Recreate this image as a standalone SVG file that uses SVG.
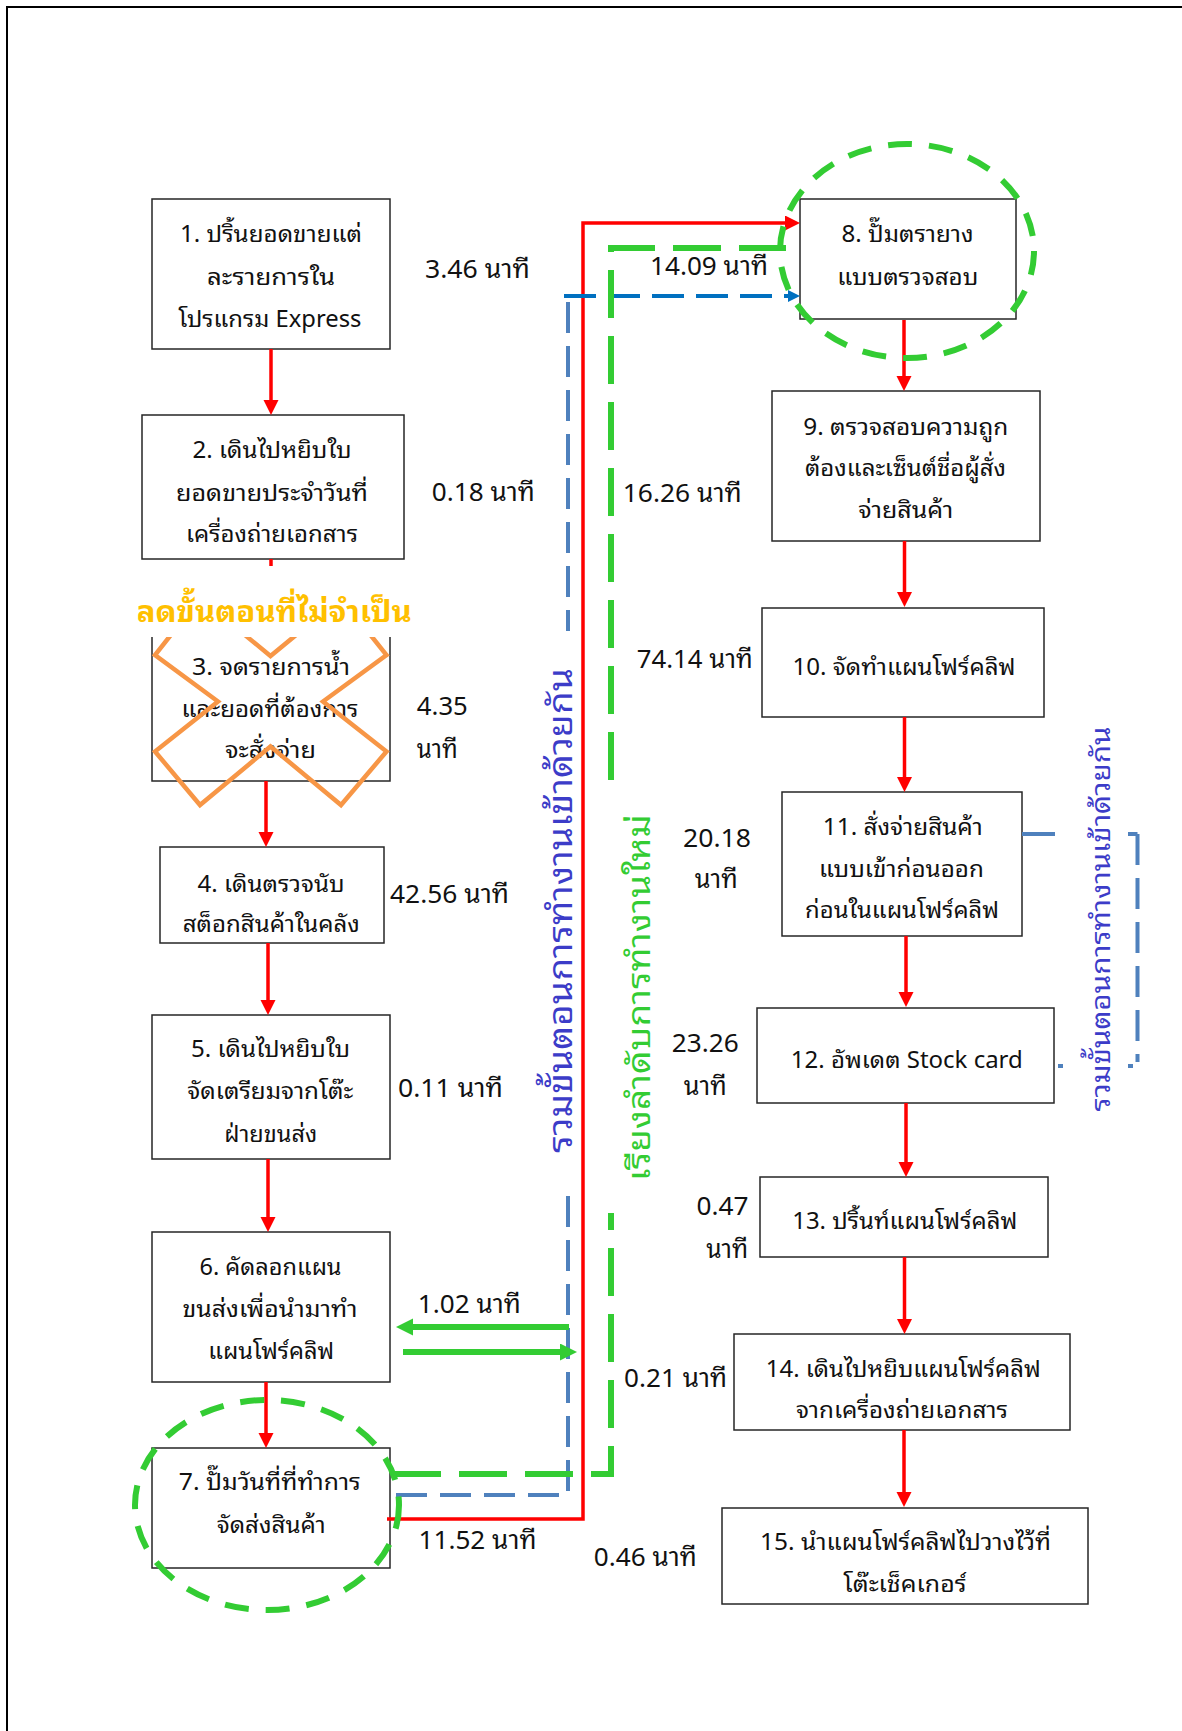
<svg xmlns="http://www.w3.org/2000/svg" width="1182" height="1731" viewBox="0 0 1182 1731">
<style>
.box{fill:#fff;stroke:#262626;stroke-width:1.5}
.t{font-family:"Noto Sans Thai Looped","Noto Looped Thai UI","Noto Looped Thai","Leelawadee UI","Tahoma","Noto Sans Thai","Noto Sans","DejaVu Sans",sans-serif;font-size:23px;fill:#111;text-anchor:middle}
.l{font-family:"Noto Sans Thai Looped","Noto Looped Thai UI","Noto Looped Thai","Leelawadee UI","Tahoma","Noto Sans Thai","Noto Sans","DejaVu Sans",sans-serif;font-size:26px;fill:#111;text-anchor:middle}
.red{stroke:#FF0000;stroke-width:3.5;fill:none}
.grn{stroke:#33CC33;stroke-width:6;fill:none}
.gd{stroke-dasharray:48 18}
.bl{stroke:#4F81BD;stroke-width:4;fill:none;stroke-dasharray:31 13}
.db{stroke:#0070C0;stroke-width:4;fill:none;stroke-dasharray:32 12}
.ell{fill:none;stroke:#33CC33;stroke-width:6;stroke-dasharray:24 17}
.vt{font-family:"Noto Sans Thai Looped","Noto Looped Thai UI","Noto Looped Thai","Leelawadee UI","Tahoma","Noto Sans Thai","Noto Sans","DejaVu Sans",sans-serif;text-anchor:middle}
</style>
<defs>
<marker id="ar" markerUnits="userSpaceOnUse" markerWidth="16" markerHeight="16" refX="5" refY="7.5" orient="auto"><path d="M0,0 L15,7.5 L0,15 z" fill="#FF0000"/></marker>
<marker id="ag" markerUnits="userSpaceOnUse" markerWidth="18" markerHeight="18" refX="5" refY="8.5" orient="auto"><path d="M0,0 L17,8.5 L0,17 z" fill="#33CC33"/></marker>
<marker id="ab" markerUnits="userSpaceOnUse" markerWidth="13" markerHeight="13" refX="4" refY="6" orient="auto"><path d="M0,0 L12,6 L0,12 z" fill="#0070C0"/></marker>
</defs>
<rect width="1182" height="1731" fill="#fff"/>
<path d="M7,1731 V7 H1182" fill="none" stroke="#000" stroke-width="2"/>

<g id="n1"><rect class="box" x="152" y="199" width="238" height="150"/>
<text class="t" x="271" y="241.7" textLength="182" lengthAdjust="spacingAndGlyphs">1. ปริ้นยอดขายแต่</text>
<text class="t" x="271" y="285" textLength="128" lengthAdjust="spacingAndGlyphs">ละรายการใน</text>
<text class="t" x="270" y="326.7" textLength="183" lengthAdjust="spacingAndGlyphs">โปรแกรม Express</text></g>

<g id="n2"><rect class="box" x="142" y="415" width="262" height="144"/>
<text class="t" x="272" y="458" textLength="159" lengthAdjust="spacingAndGlyphs">2. เดินไปหยิบใบ</text>
<text class="t" x="272" y="500.7" textLength="192" lengthAdjust="spacingAndGlyphs">ยอดขายประจำวันที่</text>
<text class="t" x="272" y="542" textLength="172" lengthAdjust="spacingAndGlyphs">เครื่องถ่ายเอกสาร</text></g>

<g id="n3"><rect class="box" x="152" y="630" width="238" height="151"/>
<text class="t" x="271" y="675" textLength="158" lengthAdjust="spacingAndGlyphs">3. จดรายการน้ำ</text>
<text class="t" x="270" y="716.7" textLength="177" lengthAdjust="spacingAndGlyphs">และยอดที่ต้องการ</text>
<text class="t" x="270.5" y="758" textLength="91" lengthAdjust="spacingAndGlyphs">จะสั่งจ่าย</text></g>

<g id="n4"><rect class="box" x="160" y="847" width="224" height="96"/>
<text class="t" x="271" y="891.7" textLength="147" lengthAdjust="spacingAndGlyphs">4. เดินตรวจนับ</text>
<text class="t" x="271.3" y="931.7" textLength="177" lengthAdjust="spacingAndGlyphs">สต็อกสินค้าในคลัง</text></g>

<g id="n5"><rect class="box" x="152" y="1015" width="238" height="144"/>
<text class="t" x="270.5" y="1057" textLength="159" lengthAdjust="spacingAndGlyphs">5. เดินไปหยิบใบ</text>
<text class="t" x="270.3" y="1099" textLength="166" lengthAdjust="spacingAndGlyphs">จัดเตรียมจากโต๊ะ</text>
<text class="t" x="270.7" y="1141.7" textLength="93" lengthAdjust="spacingAndGlyphs">ฝ่ายขนส่ง</text></g>

<g id="n6"><rect class="box" x="152" y="1232" width="238" height="150"/>
<text class="t" x="270.5" y="1275" textLength="142" lengthAdjust="spacingAndGlyphs">6. คัดลอกแผน</text>
<text class="t" x="270" y="1316.7" textLength="175" lengthAdjust="spacingAndGlyphs">ขนส่งเพื่อนำมาทำ</text>
<text class="t" x="271.2" y="1359" textLength="126" lengthAdjust="spacingAndGlyphs">แผนโฟร์คลิฟ</text></g>

<g id="n7"><rect class="box" x="152" y="1448" width="238" height="120"/>
<text class="t" x="269.8" y="1490" textLength="182" lengthAdjust="spacingAndGlyphs">7. ปั๊มวันที่ที่ทำการ</text>
<text class="t" x="271.2" y="1533.3" textLength="109" lengthAdjust="spacingAndGlyphs">จัดส่งสินค้า</text></g>

<g id="n8"><rect class="box" x="800" y="199" width="216" height="120"/>
<text class="t" x="907.5" y="241.7" textLength="132" lengthAdjust="spacingAndGlyphs">8. ปั๊มตรายาง</text>
<text class="t" x="907.8" y="285" textLength="141" lengthAdjust="spacingAndGlyphs">แบบตรวจสอบ</text></g>

<g id="n9"><rect class="box" x="772" y="391" width="268" height="150"/>
<text class="t" x="905.8" y="435" textLength="205" lengthAdjust="spacingAndGlyphs">9. ตรวจสอบความถูก</text>
<text class="t" x="905.5" y="476" textLength="201" lengthAdjust="spacingAndGlyphs">ต้องและเซ็นต์ชื่อผู้สั่ง</text>
<text class="t" x="905.8" y="517.7" textLength="95" lengthAdjust="spacingAndGlyphs">จ่ายสินค้า</text></g>

<g id="n10"><rect class="box" x="762" y="608" width="282" height="109"/>
<text class="t" x="904" y="675" textLength="223" lengthAdjust="spacingAndGlyphs">10. จัดทำแผนโฟร์คลิฟ</text></g>

<g id="n11"><rect class="box" x="782" y="792" width="240" height="144"/>
<text class="t" x="902.8" y="835" textLength="160" lengthAdjust="spacingAndGlyphs">11. สั่งจ่ายสินค้า</text>
<text class="t" x="901.4" y="876.7" textLength="165" lengthAdjust="spacingAndGlyphs">แบบเข้าก่อนออก</text>
<text class="t" x="902" y="918.3" textLength="194" lengthAdjust="spacingAndGlyphs">ก่อนในแผนโฟร์คลิฟ</text></g>

<g id="n12"><rect class="box" x="757" y="1008" width="297" height="95"/>
<text class="t" x="906.8" y="1068.3" textLength="232" lengthAdjust="spacingAndGlyphs">12. อัพเดต Stock card</text></g>

<g id="n13"><rect class="box" x="760" y="1177" width="288" height="80"/>
<text class="t" x="904.7" y="1229.3" textLength="225" lengthAdjust="spacingAndGlyphs">13. ปริ้นท์แผนโฟร์คลิฟ</text></g>

<g id="n14"><rect class="box" x="734" y="1334" width="336" height="96"/>
<text class="t" x="903.3" y="1376.7" textLength="275" lengthAdjust="spacingAndGlyphs">14. เดินไปหยิบแผนโฟร์คลิฟ</text>
<text class="t" x="902" y="1418.3" textLength="212" lengthAdjust="spacingAndGlyphs">จากเครื่องถ่ายเอกสาร</text></g>

<g id="n15"><rect class="box" x="722" y="1508" width="366" height="96"/>
<text class="t" x="905.6" y="1550" textLength="291" lengthAdjust="spacingAndGlyphs">15. นำแผนโฟร์คลิฟไปวางไว้ที่</text>
<text class="t" x="905" y="1591.7" textLength="123" lengthAdjust="spacingAndGlyphs">โต๊ะเช็คเกอร์</text></g>

<g id="labels">
<text class="l" x="477.5" y="278" textLength="105" lengthAdjust="spacingAndGlyphs">3.46 นาที</text>
<text class="l" x="483.3" y="500.7" textLength="103" lengthAdjust="spacingAndGlyphs">0.18 นาที</text>
<text class="l" x="442.3" y="715" textLength="51" lengthAdjust="spacingAndGlyphs">4.35</text>
<text class="l" x="437.3" y="758" textLength="41" lengthAdjust="spacingAndGlyphs">นาที</text>
<text class="l" x="449.5" y="903" textLength="119" lengthAdjust="spacingAndGlyphs">42.56 นาที</text>
<text class="l" x="450.5" y="1097" textLength="105" lengthAdjust="spacingAndGlyphs">0.11 นาที</text>
<text class="l" x="469.3" y="1313.3" textLength="103" lengthAdjust="spacingAndGlyphs">1.02 นาที</text>
<text class="l" x="477.5" y="1549.3" textLength="118" lengthAdjust="spacingAndGlyphs">11.52 นาที</text>
<text class="l" x="709" y="275" textLength="118" lengthAdjust="spacingAndGlyphs">14.09 นาที</text>
<text class="l" x="682.3" y="501.7" textLength="119" lengthAdjust="spacingAndGlyphs">16.26 นาที</text>
<text class="l" x="694.8" y="668.3" textLength="116" lengthAdjust="spacingAndGlyphs">74.14 นาที</text>
<text class="l" x="717" y="846.7" textLength="68" lengthAdjust="spacingAndGlyphs">20.18</text>
<text class="l" x="716.3" y="888.3" textLength="43" lengthAdjust="spacingAndGlyphs">นาที</text>
<text class="l" x="705.3" y="1051.7" textLength="67" lengthAdjust="spacingAndGlyphs">23.26</text>
<text class="l" x="705.3" y="1095" textLength="43" lengthAdjust="spacingAndGlyphs">นาที</text>
<text class="l" x="722.5" y="1215" textLength="52" lengthAdjust="spacingAndGlyphs">0.47</text>
<text class="l" x="727.2" y="1258.3" textLength="42" lengthAdjust="spacingAndGlyphs">นาที</text>
<text class="l" x="675.6" y="1387.3" textLength="103" lengthAdjust="spacingAndGlyphs">0.21 นาที</text>
<text class="l" x="645.3" y="1566" textLength="103" lengthAdjust="spacingAndGlyphs">0.46 นาที</text>
</g>

<g id="connectors">
<line class="red" x1="271" y1="349" x2="271" y2="405" marker-end="url(#ar)"/>
<line class="red" x1="271" y1="559" x2="271" y2="620" marker-end="url(#ar)"/>
<line class="red" x1="266" y1="781" x2="266" y2="837" marker-end="url(#ar)"/>
<line class="red" x1="268" y1="943" x2="268" y2="1005" marker-end="url(#ar)"/>
<line class="red" x1="268" y1="1159" x2="268" y2="1222" marker-end="url(#ar)"/>
<line class="red" x1="266" y1="1382" x2="266" y2="1438" marker-end="url(#ar)"/>
<line class="red" x1="904" y1="320" x2="904" y2="381" marker-end="url(#ar)"/>
<line class="red" x1="904.5" y1="541" x2="904.5" y2="597" marker-end="url(#ar)"/>
<line class="red" x1="904.5" y1="717" x2="904.5" y2="782" marker-end="url(#ar)"/>
<line class="red" x1="906" y1="936" x2="906" y2="997" marker-end="url(#ar)"/>
<line class="red" x1="906" y1="1103" x2="906" y2="1167" marker-end="url(#ar)"/>
<line class="red" x1="904.5" y1="1257" x2="904.5" y2="1324" marker-end="url(#ar)"/>
<line class="red" x1="904" y1="1430" x2="904" y2="1497" marker-end="url(#ar)"/>
<path class="red" d="M387,1519 H583 V223 H790" marker-end="url(#ar)"/>
<path class="bl" d="M568,302 V631"/>
<path class="bl" d="M568,1196 V1495 H390"/>
<path class="db" d="M564,296 H792" marker-end="url(#ab)"/>
<path class="grn gd" d="M393,1474 H611 V1213"/>
<path class="grn gd" d="M611,780 V248 H786"/>
<line class="grn" x1="569" y1="1327" x2="408" y2="1327" marker-end="url(#ag)"/>
<line class="grn" x1="403" y1="1352" x2="565" y2="1352" marker-end="url(#ag)"/>
<path d="M1022,834 H1055 M1128,834 H1137.5" fill="none" stroke="#4F81BD" stroke-width="4"/>
<path class="bl" d="M1137.5,834 V1062"/>
<path d="M1058,1066 H1063 M1128,1066 H1133" fill="none" stroke="#4F81BD" stroke-width="4"/>
</g>

<g id="highlights">
<ellipse class="ell" cx="267" cy="1505" rx="132" ry="105"/>
<ellipse class="ell" cx="907" cy="251" rx="127" ry="107"/>
<polygon points="200,598 270.5,656 341,598 386.5,655 323,701.5 386.5,751.5 341,805 270.5,746.5 200,805 155,751.5 218,701.5 155,655" fill="none" stroke="#F79646" stroke-width="4.5"/>
</g>

<g id="remove-label">
<rect x="128" y="566" width="296" height="71" fill="#fff"/>
<text x="274.3" y="621.7" font-family="'Noto Sans Thai Looped','Noto Looped Thai UI','Noto Looped Thai','Leelawadee UI',Tahoma,'Noto Sans Thai','Noto Sans',sans-serif" font-size="30" font-weight="bold" fill="#FFC000" text-anchor="middle" textLength="275" lengthAdjust="spacingAndGlyphs">ลดขั้นตอนที่ไม่จำเป็น</text>
</g>

<g id="side-labels">
<text class="vt" transform="translate(572,910.5) rotate(-90)" font-size="33" fill="#3C3CC8" textLength="485" lengthAdjust="spacingAndGlyphs">รวมขั้นตอนการทำงานเข้าด้วยกัน</text>
<text class="vt" transform="translate(650,997.5) rotate(-90)" font-size="32" fill="#33CC33" textLength="367" lengthAdjust="spacingAndGlyphs">เรียงลำดับการทำงานใหม่</text>
<text class="vt" transform="translate(1110,919) rotate(-90)" font-size="27" fill="#3C3CC8" textLength="385" lengthAdjust="spacingAndGlyphs">รวมขั้นตอนการทำงานเข้าด้วยกัน</text>
</g>
</svg>
